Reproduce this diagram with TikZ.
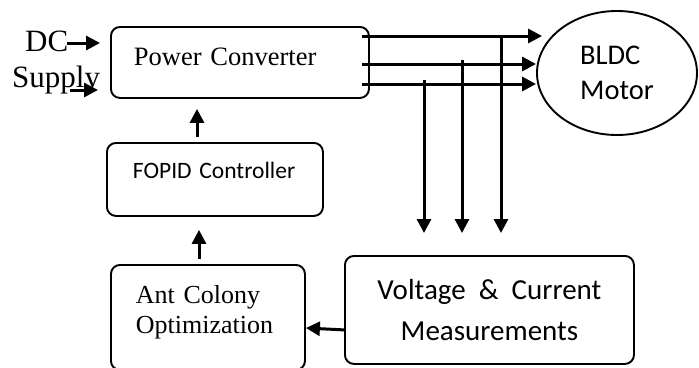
\documentclass[tikz,border=0pt]{standalone}
\usepackage{fontspec}
\setmainfont{Liberation Serif}
\newfontfamily\calibri{Carlito}
\usepackage{tikz}
\usetikzlibrary{positioning,arrows.meta,calc,shapes.geometric}
\tikzset{
  blk/.style={draw, line width=1.9pt, rounded corners=9pt, anchor=north west,
              inner ysep=0pt, align=left},
  serifl/.style={font=\fontsize{26.5}{30}\selectfont},
  sansl/.style={font=\calibri\fontsize{29}{41}\selectfont},
  motorell/.style={ellipse, draw, line width=1.9pt, minimum width=160pt, minimum height=124pt,
                   inner sep=0pt, align=left, font=\calibri\fontsize{28.5}{35}\selectfont},
  flow/.style={-{Triangle[length=14pt,width=14pt]}, line width=3pt}
}
\begin{document}
\begin{tikzpicture}[x=1pt, y=-1pt]
\useasboundingbox (0,0) rectangle (699,367);
\node (pc) [blk, serifl, at={(110,26)}, minimum width=258pt, minimum height=71pt, inner xsep=23pt, text width=212pt, text depth=10.5pt] {\mbox{Power Converter}};
\node (fopid) [blk, at={(106,142)}, minimum width=216pt, minimum height=73pt, inner xsep=26pt, text width=164pt, text depth=17.5pt, font=\calibri\fontsize{23.5}{28}\selectfont] {\mbox{FOPID Controller}};
\node (aco) [blk, at={(110,264)}, minimum width=194pt, minimum height=105pt, inner xsep=25pt, text width=144pt, font=\fontsize{26}{30}\selectfont] {\mbox{Ant Colony}\\\mbox{Optimization}\rule[-15pt]{0pt}{0pt}};
\node (vc) [blk, sansl, at={(344,255)}, minimum width=289pt, minimum height=108pt, align=center] {Voltage\ \ \&\ \ Current\\Measurements};
\node (motor) [motorell, at={(617,73)}] {BLDC\\Motor};
\node (dc) [anchor=north west, at={(12,31)}, align=left, inner sep=0pt, font=\fontsize{31}{36}\selectfont] {\hspace*{13pt}DC\\Supply};
\draw[flow] ($(pc.north west)+(-43,17)$) -- ($(pc.north west)+(-10,17)$);
\draw[flow] ($(pc.north west)+(-40,64)$) -- ($(pc.north west)+(-12,64)$);
\draw[flow] ($(fopid.north west)+(91,-5)$) -- ($(pc.south west)+(87,10)$);
\draw[flow] ($(aco.north west)+(89,-5)$) -- ($(fopid.south west)+(93,13)$);
\draw[flow] ($(vc.south west)+(0,-35)$) -- ($(aco.north east)+(0,64)$);
\coordinate (ph1) at ($(pc.north east)+(-8,10)$);
\coordinate (ph2) at ($(pc.north east)+(-8,38)$);
\coordinate (ph3) at ($(pc.north east)+(-8,58)$);
\draw[flow] (ph1) -- ($(ph1 -| motor.west)+(6,0)$);
\draw[flow] (ph2) -- (ph2 -| motor.west);
\draw[flow] (ph3) -- (ph3 -| motor.west);
\coordinate (tp1) at (424,80);
\coordinate (tp2) at (462,60);
\coordinate (tp3) at (501,35);
\draw[flow] (tp1) -- ($(tp1 |- vc.north)+(0,-22)$);
\draw[flow] (tp2) -- ($(tp2 |- vc.north)+(0,-22)$);
\draw[flow] (tp3) -- ($(tp3 |- vc.north)+(0,-22)$);
\end{tikzpicture}
\end{document}
